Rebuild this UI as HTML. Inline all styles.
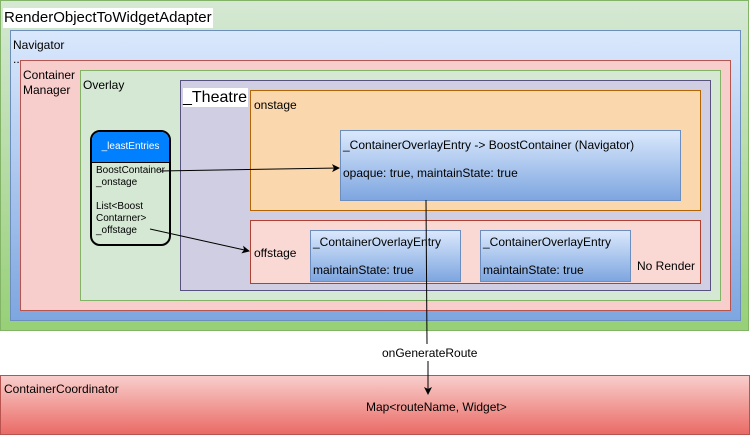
<!DOCTYPE html>
<html><head><meta charset="utf-8"><style>
body{margin:0;width:751px;height:436px;background:#fff;position:relative;overflow:hidden;font-family:"Liberation Sans",Arial,sans-serif;color:#000}
.b{position:absolute;box-sizing:border-box;border:1px solid}
.t{position:absolute;font-size:12px;white-space:nowrap;line-height:14px}
</style></head><body>
<div class="b" style="left:0;top:0;width:749px;height:331px;background:linear-gradient(#d5e8d4,#97d077);border-color:#82b366"></div>
<div class="t" style="left:3px;top:8px;font-size:15px;line-height:20px;background:#fff;padding:0 1px">RenderObjectToWidgetAdapter</div>
<div class="b" style="left:10px;top:30px;width:731px;height:291px;background:linear-gradient(#dae8fc,#7ea6e0);border-color:#6c8ebf"></div>
<div class="t" style="left:13px;top:38px">Navigator</div>
<div class="t" style="left:13px;top:52px">..</div>
<div class="b" style="left:20px;top:60px;width:711px;height:251px;background:#f8cecc;border-color:#b85450"></div>
<div class="t" style="left:23px;top:68px;line-height:15px">Container<br>Manager</div>
<div class="b" style="left:80px;top:70px;width:641px;height:231px;background:#d5e8d4;border-color:#82b366"></div>
<div class="t" style="left:83px;top:78px">Overlay</div>
<div class="b" style="left:180px;top:80px;width:531px;height:211px;background:#d0cee2;border-color:#56517e"></div>
<div class="t" style="left:183px;top:88px;font-size:16px;line-height:19px;background:#fff;padding-right:1px">_Theatre</div>
<div class="b" style="left:250px;top:90px;width:451px;height:121px;background:#fad7ac;border-color:#b46504"></div>
<div class="t" style="left:254px;top:98px">onstage</div>
<div class="b" style="left:340px;top:130px;width:341px;height:71px;background:linear-gradient(#dae8fc,#7ea6e0);border-color:#6c8ebf"></div>
<div class="t" style="left:343px;top:138px">_ContainerOverlayEntry -&gt; BoostContainer (Navigator)</div>
<div class="t" style="left:343px;top:166px">opaque: true, maintainState: true</div>
<div class="b" style="left:250px;top:220px;width:451px;height:64px;background:#fad9d5;border-color:#ae4132"></div>
<div class="t" style="left:254px;top:246px">offstage</div>
<div class="t" style="left:637px;top:259px">No Render</div>
<div class="b" style="left:310px;top:230px;width:151px;height:52px;background:linear-gradient(#dae8fc,#7ea6e0);border-color:#6c8ebf"></div>
<div class="t" style="left:313px;top:235px">_ContainerOverlayEntry</div>
<div class="t" style="left:313px;top:263px">maintainState: true</div>
<div class="b" style="left:480px;top:230px;width:151px;height:52px;background:linear-gradient(#dae8fc,#7ea6e0);border-color:#6c8ebf"></div>
<div class="t" style="left:483px;top:235px">_ContainerOverlayEntry</div>
<div class="t" style="left:483px;top:263px">maintainState: true</div>
<div class="b" style="left:90px;top:130px;width:81px;height:116px;border:2px solid #000;border-radius:10px;background:#d5e8d4;overflow:hidden">
<div style="height:30px;background:#007fff;border-bottom:1px solid #000;color:#fff;font-size:10px;text-align:center;line-height:30px">_leastEntries</div>
</div>
<div class="t" style="left:96px;top:165px;font-size:10px;line-height:12px">BoostContainer<br>_onstage<br><br>List&lt;Boost<br>Contarner&gt;<br>_offstage</div>
<div class="b" style="left:0;top:375px;width:750px;height:60px;background:linear-gradient(#f8cecc,#ea6b66);border-color:#b85450"></div>
<div class="t" style="left:4px;top:382px">ContainerCoordinator</div>
<div class="t" style="left:366px;top:400px">Map&lt;routeName, Widget&gt;</div>
<svg width="751" height="436" style="position:absolute;left:0;top:0">
<defs><marker id="a" markerWidth="8" markerHeight="8" refX="7" refY="4" orient="auto" markerUnits="userSpaceOnUse"><path d="M0,0L8,4L0,8L2,4z" fill="#000"/></marker></defs>
<line x1="160" y1="171" x2="339" y2="168" stroke="#000" marker-end="url(#a)"/>
<line x1="150" y1="229" x2="249" y2="251" stroke="#000" marker-end="url(#a)"/>
<line x1="426" y1="200" x2="427" y2="344" stroke="#000"/>
<line x1="428" y1="361" x2="428" y2="394" stroke="#000" marker-end="url(#a)"/>
</svg>
<div class="t" style="left:382px;top:346px">onGenerateRoute</div>
</body></html>
